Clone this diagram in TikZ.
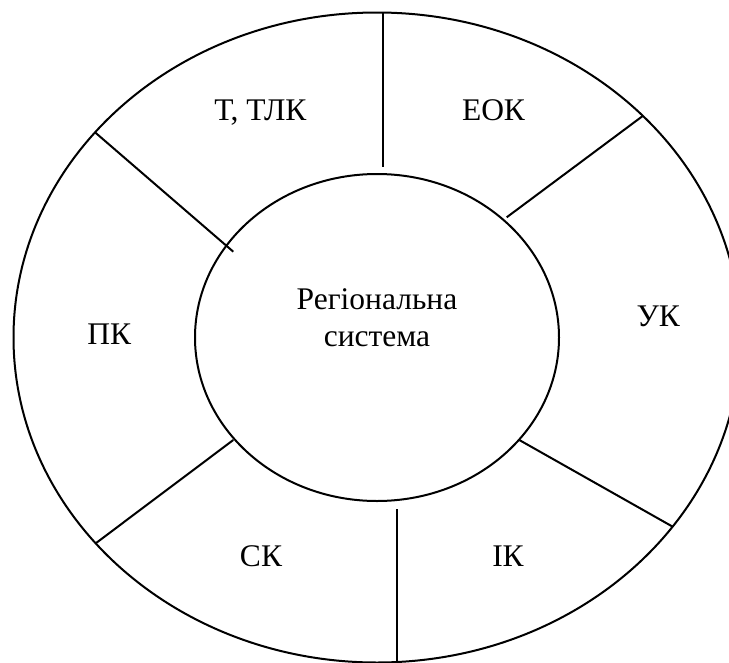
\documentclass[tikz,border=0pt]{standalone}
\usepackage{fontspec}
\setmainfont{Liberation Serif}
\begin{document}
\begin{tikzpicture}[x=1pt,y=-1pt,line width=2pt,
  lbl/.style={font=\fontsize{31.5}{36.7}\selectfont,anchor=base,inner sep=0pt},
  divider/.style={line width=2pt}]
\useasboundingbox (0,0) rectangle (729,662);
\clip (0,0) rectangle (729,662);
\coordinate (c) at (377,337.5);
% outer ring
\draw (c) ellipse [x radius=363.5, y radius=325];
% inner core
\draw (c) ellipse [x radius=182, y radius=163.5];
% dividers
\coordinate (t1) at (383.3,12.6);  \coordinate (t2) at (383.3,166.7);
\coordinate (tl1) at (95,132.3);   \coordinate (tl2) at (233.3,251.7);
\coordinate (tr1) at (642.7,116);  \coordinate (tr2) at (506.7,217.3);
\coordinate (br1) at (519.3,440);  \coordinate (br2) at (672.7,526.7);
\coordinate (bl1) at (233.3,440);  \coordinate (bl2) at (95.7,543.3);
\coordinate (b1) at (397.3,509);   \coordinate (b2) at (397.3,670);
\draw[divider] (t1) -- (t2);
\draw[divider] (tl1) -- (tl2);
\draw[divider] (tr1) -- (tr2);
\draw[divider] (br1) -- (br2);
\draw[divider] (bl1) -- (bl2);
\draw[divider] (b1) -- (b2);
% labels
\node[lbl] (ttlk) at (260.4,120.3) {Т, ТЛК};
\node[lbl] (eok) at (493.5,120.3) {ЕОК};
\node[lbl] (pk) at (109.3,344) {ПК};
\node[lbl] (uk) at (658.3,326.7) {УК};
\node[lbl] (sk) at (261,566.5) {СК};
\node[lbl] (ik) at (508,566.5) {ІК};
\node[lbl,align=center] (core) at (377,346.1) {Регіональна\\система};
\end{tikzpicture}
\end{document}
